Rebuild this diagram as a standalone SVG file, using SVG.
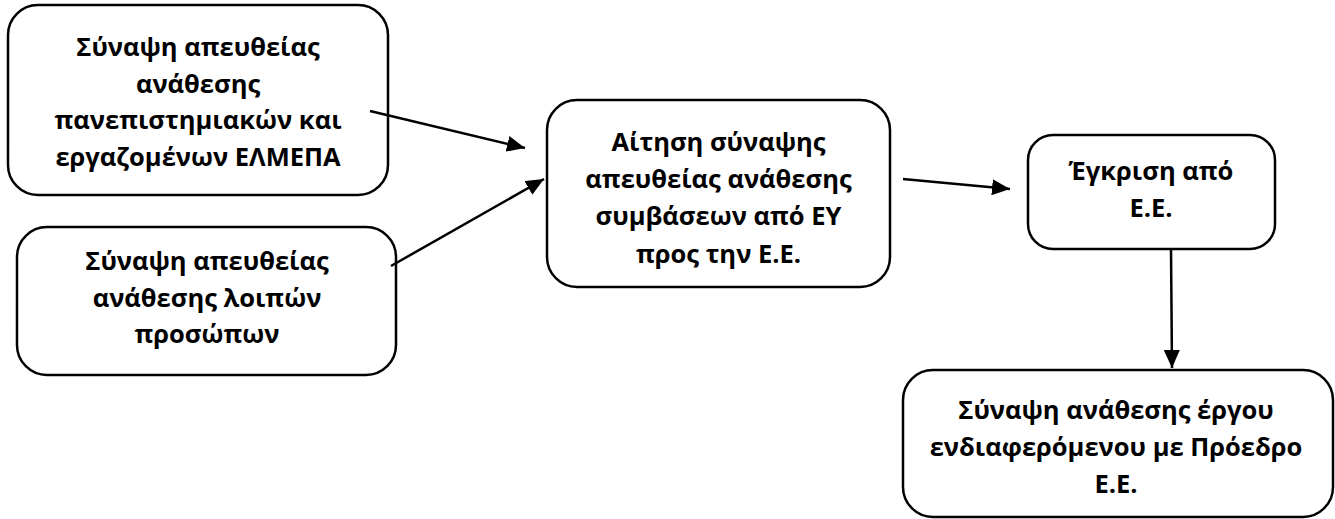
<svg xmlns="http://www.w3.org/2000/svg" width="1335" height="519" viewBox="0 0 1335 519">
  <defs>
    <marker id="arrow" viewBox="0 0 18 16" refX="18" refY="8" markerWidth="18" markerHeight="16" markerUnits="userSpaceOnUse" orient="auto">
      <path d="M0,0 L18,8 L0,16 Z" fill="#000"/>
    </marker>
    <style>
      .box { fill: #fff; stroke: #000; stroke-width: 2.5; }
      .label { font-family: "Open Sans", "Noto Sans", sans-serif; font-weight: bold; font-size: 25.5px; fill: #000; text-anchor: middle; }
      .edge { fill: none; stroke: #000; stroke-width: 2.5; marker-end: url(#arrow); }
    </style>
  </defs>
  <rect width="1335" height="519" fill="#fff"/>

  <g id="node-direct-staff">
    <rect class="box" x="8" y="5" width="380" height="190" rx="30" ry="30"/>
    <text class="label" x="198" y="56">Σύναψη απευθείας</text>
    <text class="label" x="198" y="92.5">ανάθεσης</text>
    <text class="label" x="198" y="129">πανεπιστημιακών και</text>
    <text class="label" x="198" y="165.5">εργαζομένων ΕΛΜΕΠΑ</text>
  </g>

  <g id="node-direct-others">
    <rect class="box" x="17" y="227" width="379" height="148" rx="30" ry="30"/>
    <text class="label" x="207" y="270">Σύναψη απευθείας</text>
    <text class="label" x="207" y="307">ανάθεσης λοιπών</text>
    <text class="label" x="207" y="343">προσώπων</text>
  </g>

  <g id="node-request">
    <rect class="box" x="547" y="100" width="343" height="187" rx="30" ry="30"/>
    <text class="label" x="718.5" y="151">Αίτηση σύναψης</text>
    <text class="label" x="718.5" y="188">απευθείας ανάθεσης</text>
    <text class="label" x="718.5" y="225">συμβάσεων από ΕΥ</text>
    <text class="label" x="718.5" y="263">προς την Ε.Ε.</text>
  </g>

  <g id="node-approval">
    <rect class="box" x="1028" y="135" width="247" height="114" rx="25" ry="25"/>
    <text class="label" x="1151" y="180">Έγκριση από</text>
    <text class="label" x="1151" y="217">Ε.Ε.</text>
  </g>

  <g id="node-contract">
    <rect class="box" x="903" y="370" width="430" height="147" rx="30" ry="30"/>
    <text class="label" x="1116" y="419">Σύναψη ανάθεσης έργου</text>
    <text class="label" x="1116" y="456">ενδιαφερόμενου με Πρόεδρο</text>
    <text class="label" x="1116" y="493">Ε.Ε.</text>
  </g>

  <g id="connectors">
    <line class="edge" x1="370" y1="111" x2="525" y2="148"/>
    <line class="edge" x1="391" y1="266" x2="544" y2="179"/>
    <line class="edge" x1="903" y1="179" x2="1010" y2="189"/>
    <line class="edge" x1="1171" y1="249" x2="1172" y2="368"/>
  </g>
</svg>
